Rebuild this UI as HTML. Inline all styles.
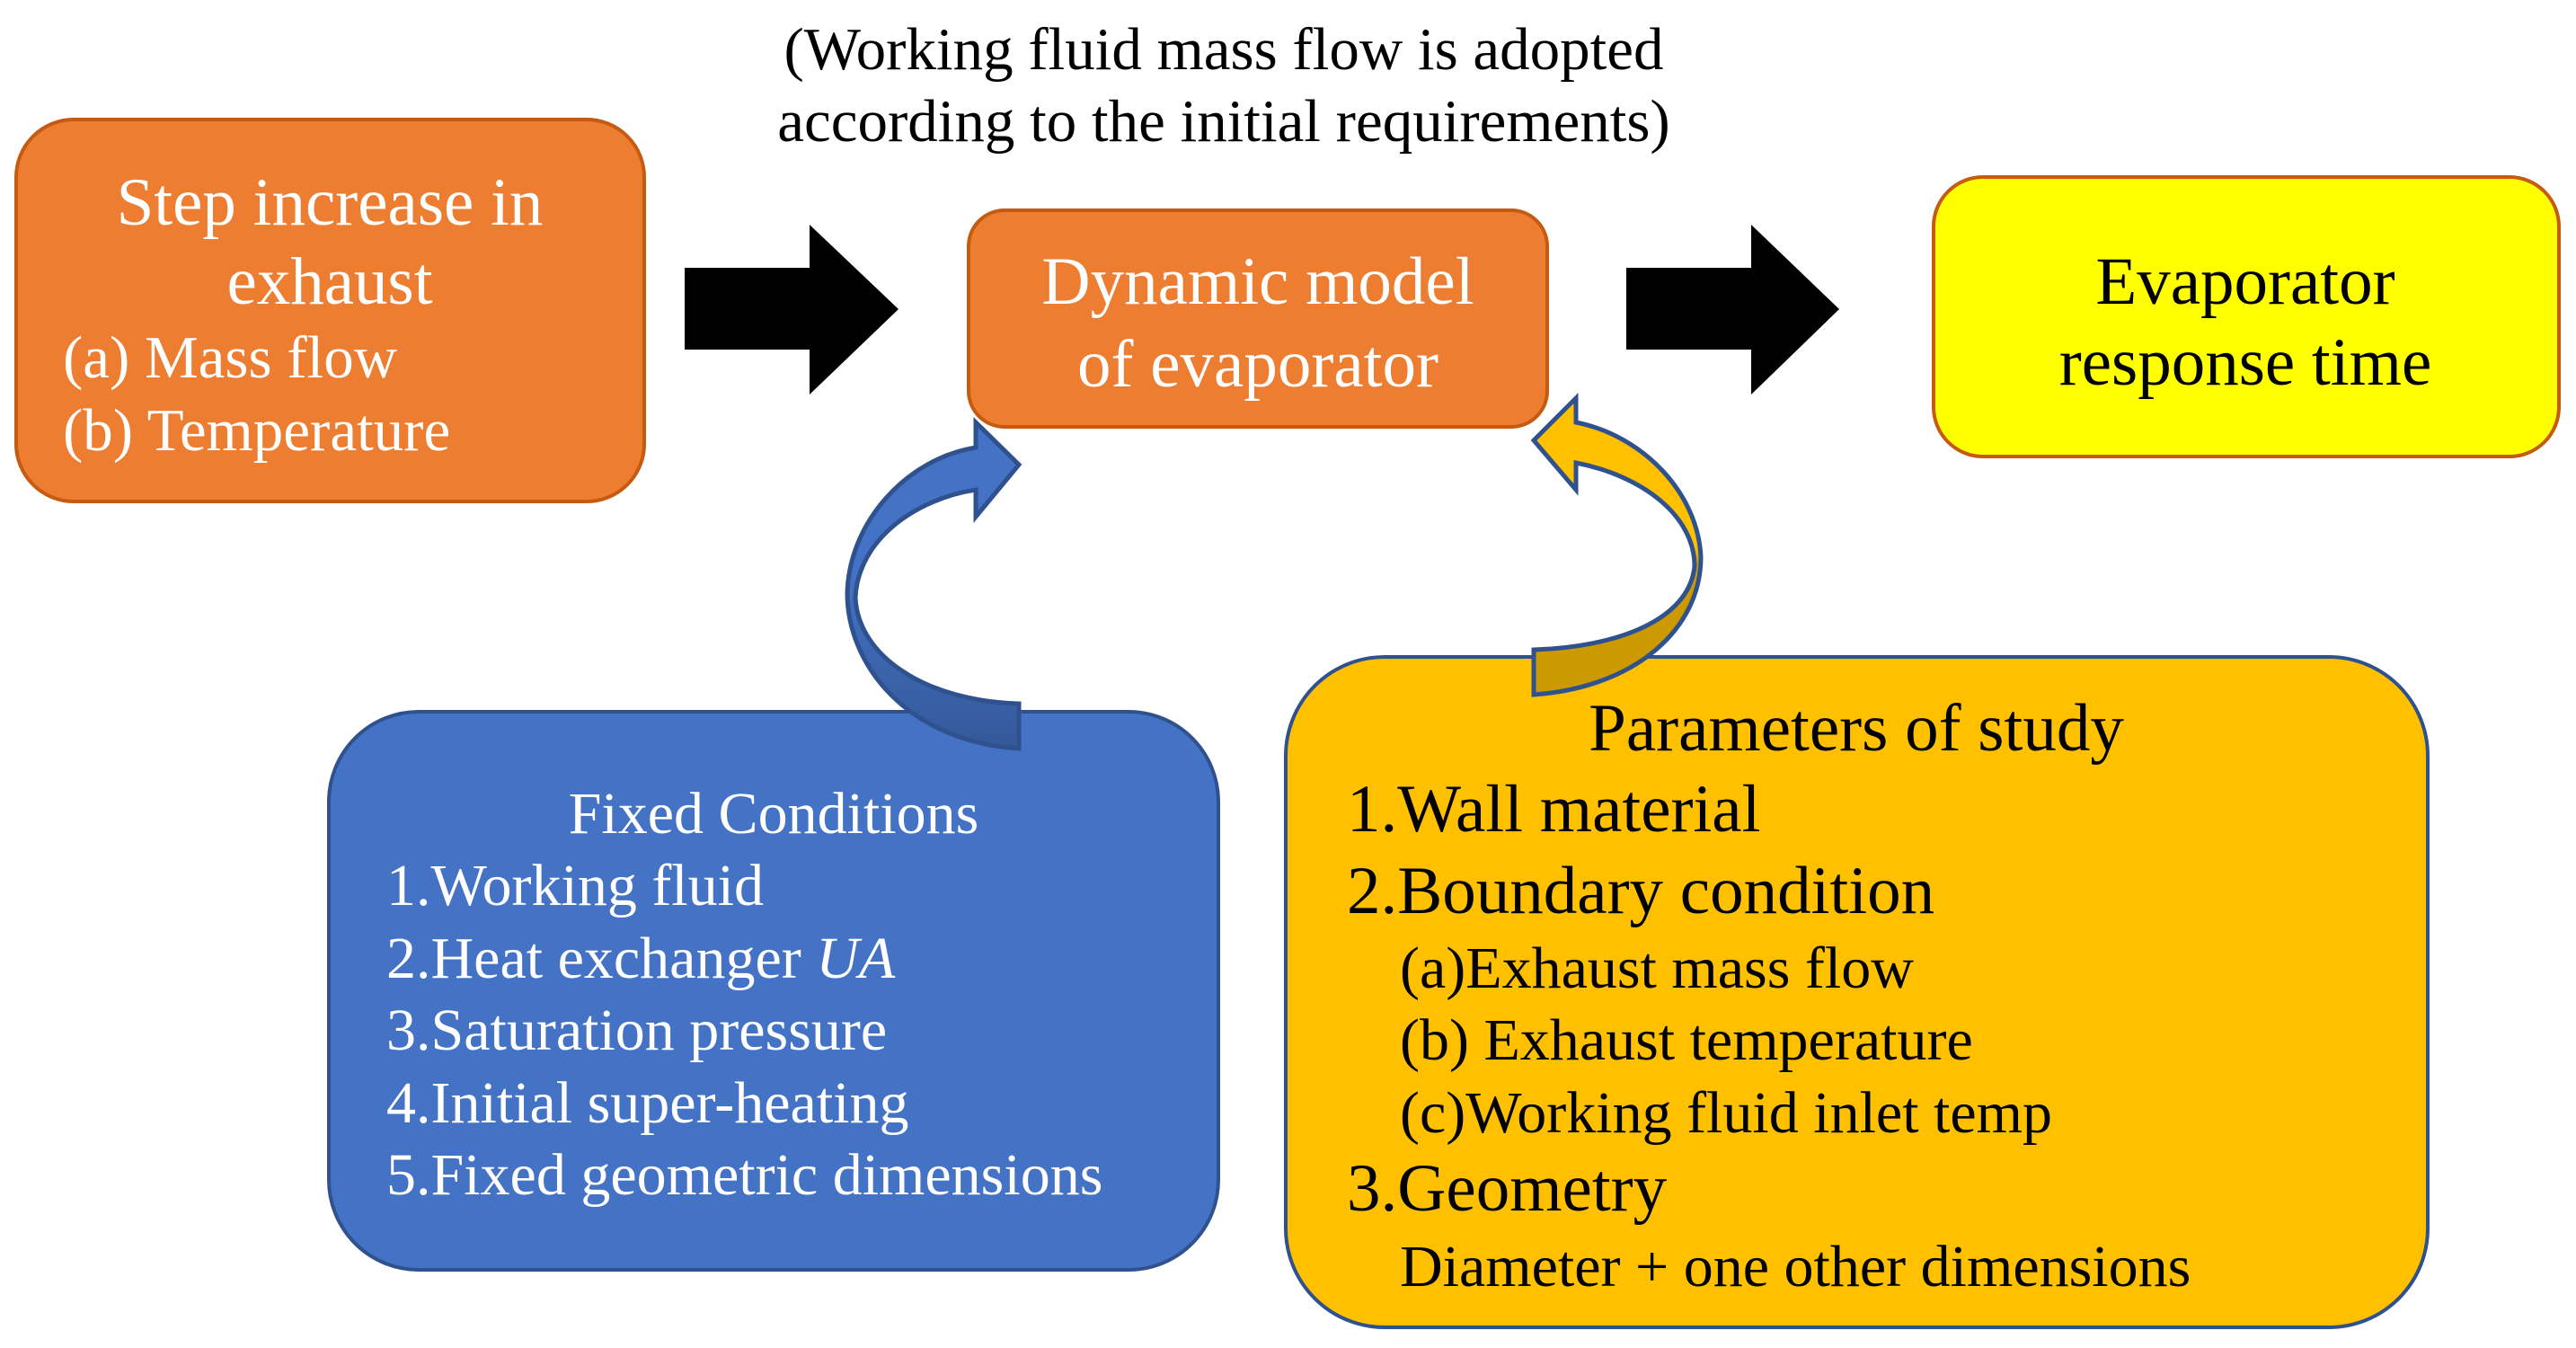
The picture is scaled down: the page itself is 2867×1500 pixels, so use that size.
<!DOCTYPE html>
<html><head><meta charset="utf-8"><style>
html,body{margin:0;padding:0;background:#fff;}
svg{display:block;}
text{font-family:"Liberation Serif",serif;}
</style></head><body>
<svg width="2867" height="1500" viewBox="0 0 2867 1500" xmlns="http://www.w3.org/2000/svg">
<defs>
<linearGradient id="bg" x1="0" y1="0" x2="0" y2="1">
<stop offset="0" stop-color="#4472C4"/><stop offset="0.45" stop-color="#4472C4"/><stop offset="1" stop-color="#34599A"/>
</linearGradient>
<linearGradient id="gg" x1="0" y1="0" x2="0" y2="1">
<stop offset="0" stop-color="#FFC000"/><stop offset="0.5" stop-color="#FFC000"/><stop offset="0.56" stop-color="#CC9900"/><stop offset="1" stop-color="#CC9900"/>
</linearGradient>
</defs>
<text x="1362" y="77" font-size="67" text-anchor="middle" fill="#000">(Working fluid mass flow is adopted</text>
<text x="1362" y="157" font-size="67" text-anchor="middle" fill="#000">according to the initial requirements)</text>

<rect x="18" y="133" width="699" height="425" rx="64" fill="#ED7D31" stroke="#C55A11" stroke-width="4"/>
<text x="367" y="250" font-size="75" text-anchor="middle" fill="#fff">Step increase in</text>
<text x="367" y="338" font-size="75" text-anchor="middle" fill="#fff">exhaust</text>
<text x="70" y="420" font-size="67" fill="#fff">(a) Mass flow</text>
<text x="70" y="501" font-size="67" fill="#fff">(b) Temperature</text>

<polygon points="762,298 901,298 901,250 1000,344 901,439 901,389 762,389" fill="#000"/>
<polygon points="1810,298 1949,298 1949,250 2047,344 1949,439 1949,389 1810,389" fill="#000"/>

<rect x="1078" y="234" width="644" height="241" rx="40" fill="#ED7D31" stroke="#C55A11" stroke-width="4"/>
<text x="1400" y="338" font-size="75" text-anchor="middle" fill="#fff">Dynamic model</text>
<text x="1400" y="430" font-size="75" text-anchor="middle" fill="#fff">of evaporator</text>

<rect x="2152" y="197" width="696" height="311" rx="55" fill="#FFFF00" stroke="#C55A11" stroke-width="4"/>
<text x="2499" y="338" font-size="75" text-anchor="middle" fill="#000">Evaporator</text>
<text x="2499" y="428" font-size="75" text-anchor="middle" fill="#000">response time</text>

<rect x="366" y="792" width="990" height="621" rx="100" fill="#4472C4" stroke="#2F528F" stroke-width="4"/>
<text x="861" y="927" font-size="66" text-anchor="middle" fill="#fff">Fixed Conditions</text>
<text x="430" y="1007" font-size="66" fill="#fff">1.Working fluid</text>
<text x="430" y="1088" font-size="66" fill="#fff">2.Heat exchanger <tspan font-style="italic">UA</tspan></text>
<text x="430" y="1168" font-size="66" fill="#fff">3.Saturation pressure</text>
<text x="430" y="1249" font-size="66" fill="#fff">4.Initial super-heating</text>
<text x="430" y="1329" font-size="66" fill="#fff">5.Fixed geometric dimensions</text>

<rect x="1431" y="731" width="1271" height="746" rx="110" fill="#FFC000" stroke="#2F528F" stroke-width="4"/>
<text x="2066" y="835" font-size="75" text-anchor="middle" fill="#000">Parameters of study</text>
<text x="1499" y="925" font-size="75" fill="#000">1.Wall material</text>
<text x="1499" y="1016" font-size="75" fill="#000">2.Boundary condition</text>
<text x="1558" y="1099" font-size="66" fill="#000">(a)Exhaust mass flow</text>
<text x="1558" y="1179" font-size="66" fill="#000">(b) Exhaust temperature</text>
<text x="1558" y="1260" font-size="66" fill="#000">(c)Working fluid inlet temp</text>
<text x="1499" y="1347" font-size="75" fill="#000">3.Geometry</text>
<text x="1558" y="1431" font-size="66" fill="#000">Diameter + one other dimensions</text>

<path d="M1134,833 C1010,825 943,740 943,660 C945,580 1010,510 1086,498 L1086,470 L1134,517 L1086,575 L1086,545 C1020,555 955,600 952,665 C955,730 1030,780 1134,783 Z" fill="url(#bg)" stroke="#2F528F" stroke-width="5"/>
<path d="M1707,773 C1820,765 1893,700 1893,620 C1890,550 1830,485 1754,470 L1754,443 L1707,490 L1754,545 L1754,515 C1830,530 1886,575 1886,630 C1880,690 1800,720 1707,723 Z" fill="url(#gg)" stroke="#2F528F" stroke-width="5"/>
</svg>
</body></html>
